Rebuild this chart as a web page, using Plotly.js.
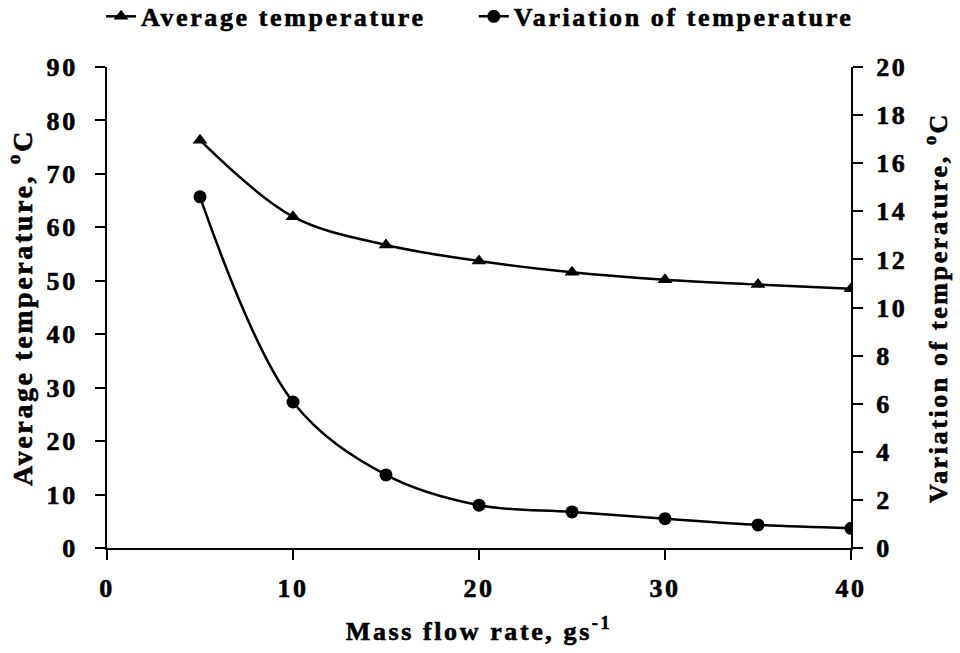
<!DOCTYPE html>
<html>
<head>
<meta charset="utf-8">
<script src="https://cdn.plot.ly/plotly-3.0.1.min.js"></script>
<style>
  html, body { margin: 0; padding: 0; background: #fff; }
  #chart { width: 960px; height: 653px; }
  /* wide, heavy serif lettering (global so text measurement agrees) */
  text { letter-spacing: 2.6px; stroke: #000; stroke-width: 0.6px; }
</style>
</head>
<body>
<div id="chart"></div>
<script>
// Mass flow rate (g/s)
const flowRate = [5, 10, 15, 20, 25, 30, 35, 40];
// Average temperature (°C), left axis
const avgTemp = [76.3, 62.0, 56.7, 53.7, 51.6, 50.2, 49.3, 48.5];
// Variation of temperature (°C), right axis
const tempVariation = [14.6, 6.07, 3.04, 1.78, 1.5, 1.22, 0.96, 0.82];

const FONT = 'Liberation Serif, Times New Roman, serif';
const black = '#000';

const traces = [
  {
    x: flowRate, y: avgTemp, name: 'Average temperature',
    type: 'scatter', mode: 'lines+markers',
    line: { color: black, width: 2.5, shape: 'spline', smoothing: 1 },
    marker: { symbol: 'triangle-up', size: 13, color: black },
    yaxis: 'y', legend: 'legend'
  },
  {
    x: flowRate, y: tempVariation, name: 'Variation of temperature',
    type: 'scatter', mode: 'lines+markers',
    line: { color: black, width: 2.5, shape: 'spline', smoothing: 1 },
    marker: { symbol: 'circle', size: 13, color: black },
    yaxis: 'y2', legend: 'legend2'
  }
];

const axisCommon = {
  showgrid: false, zeroline: false,
  showline: true, linecolor: black, linewidth: 2,
  ticks: 'outside', ticklen: 10, tickwidth: 2, tickcolor: black,
  tickfont: { family: FONT, size: 26, color: black, weight: 'bold' }
};

// the two legend entries sit side by side above the plot
const legendCommon = {
  orientation: 'h',
  xref: 'paper', xanchor: 'left',
  yref: 'paper', y: 1.154, yanchor: 'top',
  font: { family: FONT, size: 26, color: black, weight: 'bold' },
  itemwidth: 30,
  bgcolor: 'rgba(0,0,0,0)'
};

const layout = {
  width: 960, height: 653,
  margin: { l: 107, r: 109, t: 67, b: 105, autoexpand: false },
  paper_bgcolor: '#fff', plot_bgcolor: '#fff',
  font: { family: FONT, color: black },
  showlegend: true,
  legend: Object.assign({}, legendCommon, { x: -0.008 }),
  legend2: Object.assign({}, legendCommon, { x: 0.493 }),
  xaxis: Object.assign({}, axisCommon, {
    range: [0, 40], dtick: 10, tick0: 0, ticklabelstandoff: 6,
    title: { text: 'Mass flow rate, gs<sup>-1</sup>', standoff: 20,
             font: { family: FONT, size: 26, color: black, weight: 'bold' } }
  }),
  yaxis: Object.assign({}, axisCommon, {
    range: [0, 90], dtick: 10, tick0: 0, ticklabelstandoff: 12,
    title: { text: 'Average temperature, <sup>o</sup>C', standoff: 6,
             font: { family: FONT, size: 28, color: black, weight: 'bold' } }
  }),
  yaxis2: Object.assign({}, axisCommon, {
    range: [0, 20], dtick: 2, tick0: 0, ticklabelstandoff: 8,
    overlaying: 'y', side: 'right',
    title: { text: 'Variation of temperature, <sup>o</sup>C', standoff: 22,
             font: { family: FONT, size: 26, color: black, weight: 'bold' } }
  })
};

Plotly.newPlot('chart', traces, layout, { displayModeBar: false, staticPlot: true });
</script>
</body>
</html>
